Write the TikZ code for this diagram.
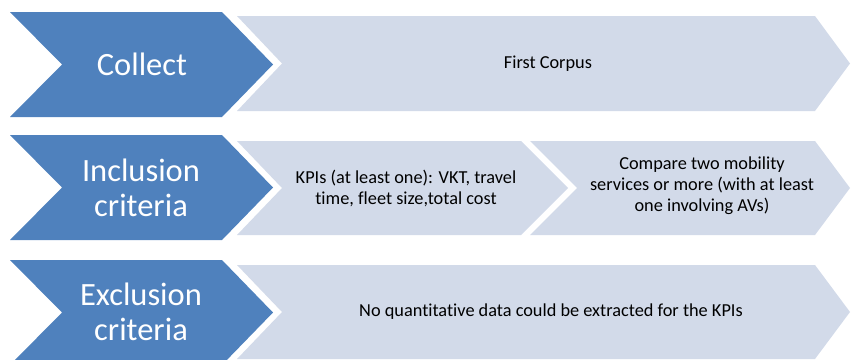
\documentclass[tikz,border=0pt]{standalone}
\usepackage{fontspec}
\setmainfont{Carlito}[Ligatures=NoCommon]
\definecolor{stepblue}{RGB}{79,129,189}
\definecolor{listgrey}{RGB}{210,218,233}

\begin{document}
\begin{tikzpicture}[x=1pt,y=-1pt,
  bigtext/.style={text=white,font=\fontsize{32.5}{35}\selectfont,align=center},
  smalltext/.style={text=black,font=\fontsize{18.3}{21}\selectfont,align=center}]
\useasboundingbox (0,0) rectangle (851,359);
% grey lists
\fill[listgrey] (237,16) -- (815,16) -- (850,63.5) -- (815,111) -- (237,111) -- (282,63.5) -- cycle;
\fill[listgrey] (237,141) -- (521,141) -- (568,188) -- (521,235) -- (237,235) -- (282,188) -- cycle;
\fill[listgrey] (530,141) -- (815,141) -- (850,188) -- (815,235) -- (530,235) -- (577,188) -- cycle;
\fill[listgrey] (237,265) -- (815,265) -- (850,312) -- (815,359) -- (237,359) -- (282,312) -- cycle;
% blue steps
\fill[stepblue] (10,12) -- (222,12) -- (273,64.5) -- (222,117) -- (10,117) -- (62,64.5) -- cycle;
\fill[stepblue] (10,135) -- (222,135) -- (273,187.5) -- (222,240) -- (10,240) -- (62,187.5) -- cycle;
\fill[stepblue] (10,260) -- (222,260) -- (273,312.5) -- (222,365) -- (10,365) -- (62,312.5) -- cycle;
\node[bigtext] (collect) at (142,64.5) {Collect};
\node[bigtext] (incl) at (141,187.5) {Inclusion\\criteria};
\node[bigtext] (excl) at (141,312) {Exclusion\\criteria};
\node[smalltext] (corpus) at (548,63.5) {First Corpus};
\node[smalltext] (kpis) at (406,188) {KPIs (at least one): VKT, travel\\time, fleet size,total cost};
\node[smalltext] (compare) at (702,186) {Compare two mobility\\services or more (with at least\\one involving AVs)};
\node[smalltext] (nodata) at (551,312) {No quantitative data could be extracted for the KPIs};
\end{tikzpicture}
\end{document}
